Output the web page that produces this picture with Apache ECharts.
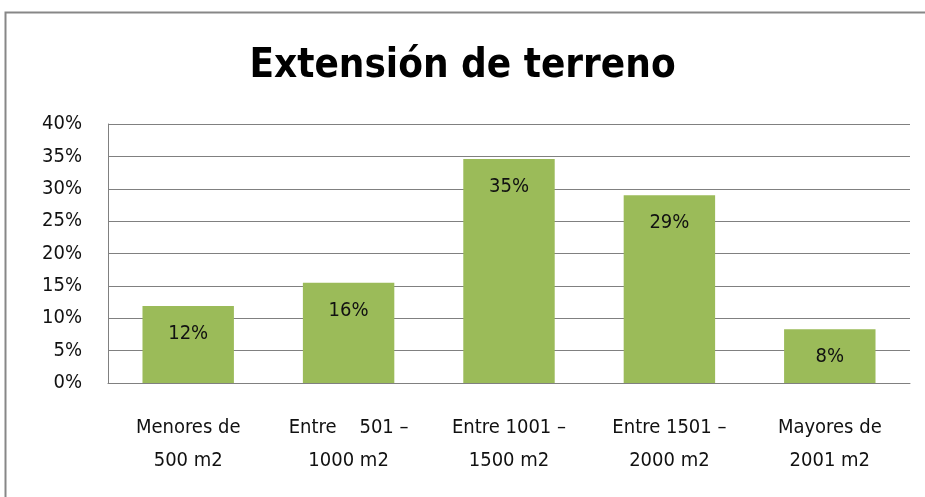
<!DOCTYPE html>
<html>
<head>
<meta charset="utf-8">
<script src="https://cdn.jsdelivr.net/npm/echarts@6/dist/echarts.min.js"></script>
<style>
  html, body { margin: 0; padding: 0; background: #fff; }
  #chart { width: 925px; height: 497px; }
</style>
</head>
<body>
<div id="chart"></div>
<script>
const categories = [
  "Menores de\n500 m2",
  "Entre    501 –\n1000 m2",
  "Entre 1001 –\n1500 m2",
  "Entre 1501 –\n2000 m2",
  "Mayores de\n2001 m2"
];
const shares = [0.119, 0.155, 0.346, 0.29, 0.083];
const yTicks = [0, 0.05, 0.1, 0.15, 0.2, 0.25, 0.3, 0.35, 0.4];

const font = "'Liberation Sans Narrow', 'DejaVu Sans Condensed', 'Noto Sans', sans-serif";
const chart = echarts.init(document.getElementById("chart"));

chart.setOption({
  animation: false,
  graphic: [
    {
      type: "rect",
      shape: { x: 5.5, y: 12.5, width: 940, height: 500 },
      style: { fill: "none", stroke: "#878787", lineWidth: 2 }
    }
  ],
  title: {
    text: "Extensión de terreno",
    left: "center",
    top: 42,
    textStyle: { fontFamily: font, fontSize: 40, fontWeight: "bold", color: "#000" }
  },
  grid: { left: 108, right: 15, top: 124, bottom: 114 },
  xAxis: {
    type: "category",
    data: categories,
    axisLine: { lineStyle: { color: "#808080", width: 1 } },
    axisTick: { show: false },
    axisLabel: {
      color: "#111",
      fontFamily: font,
      fontSize: 20,
      lineHeight: 33,
      margin: 28,
      interval: 0
    }
  },
  yAxis: {
    type: "value",
    min: yTicks[0],
    max: yTicks[yTicks.length - 1],
    interval: 0.05,
    axisLine: { show: true, lineStyle: { color: "#808080", width: 1 } },
    axisTick: { show: false },
    axisLabel: {
      color: "#111",
      fontFamily: font,
      fontSize: 20,
      margin: 26,
      formatter: (v) => Math.round(v * 100) + "%"
    },
    splitLine: { lineStyle: { color: "#808080", width: 1 } }
  },
  series: [
    {
      type: "bar",
      data: shares,
      barWidth: "57%",
      itemStyle: { color: "#9bbb59" },
      label: {
        show: true,
        position: "insideTop",
        distance: 18,
        color: "#111",
        fontFamily: font,
        fontSize: 20,
        formatter: (p) => Math.round(p.value * 100) + "%"
      }
    }
  ]
});
</script>
</body>
</html>
